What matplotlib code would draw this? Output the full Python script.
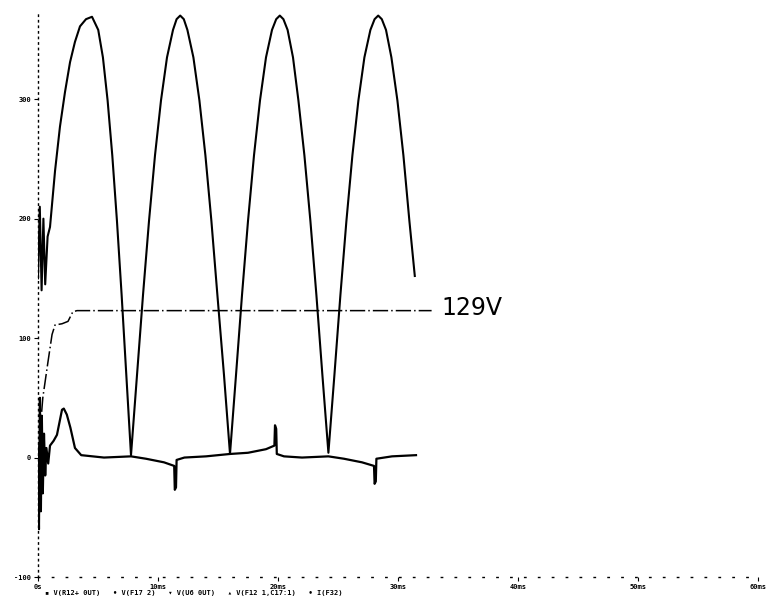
import matplotlib
matplotlib.use("Agg")
import matplotlib.pyplot as plt
from matplotlib import font_manager

# ---- data (time in ms, value in V) ----
big_t = [0.0, 0.15, 0.3, 0.45, 0.6, 0.8, 1.0, 1.42, 1.83, 2.25, 2.67, 3.08, 3.5, 4.0, 4.5,
         5.02, 5.41, 5.8, 6.19, 6.58, 6.97, 7.36, 7.75,
         8.25, 8.75, 9.25, 9.75, 10.25, 10.75, 11.25, 11.55, 11.85, 12.15, 12.45, 12.95, 13.45,
         13.95, 14.45, 14.95, 15.5, 16.0,
         16.5, 17.0, 17.5, 18.0, 18.5, 19.0, 19.5, 19.85, 20.15, 20.45, 20.8, 21.25, 21.7,
         22.2, 22.7, 23.2, 23.7, 24.2,
         24.7, 25.2, 25.7, 26.2, 26.7, 27.2, 27.7, 28.05, 28.35, 28.65, 29.0, 29.45, 29.95,
         30.45, 30.95, 31.4]
big_v = [150, 210, 140, 200, 145, 185, 193, 240, 277, 306, 331, 348, 361, 367, 369,
         358, 335, 299, 253, 198, 136, 69, 2,
         69, 136, 198, 253, 299, 335, 358, 367, 370, 367, 358, 335, 299,
         253, 198, 136, 69, 3,
         69, 136, 198, 253, 299, 335, 358, 367, 370, 367, 358, 335, 299,
         253, 198, 136, 69, 4,
         69, 136, 198, 253, 299, 335, 358, 367, 370, 367, 358, 335, 299,
         253, 198, 152]

dc_t = [0.0, 0.2, 0.4, 0.83, 1.17, 1.42, 2.0, 2.5, 2.9, 3.25, 32.8]
dc_v = [0, 25, 50, 80, 103, 111, 112, 114, 122, 123, 123]

low_t = [0.0, 0.08, 0.16, 0.24, 0.32, 0.4, 0.5, 0.6, 0.7, 0.85, 1.0, 1.3, 1.58, 1.8,
         2.0, 2.15, 2.4, 2.7, 3.08, 3.6, 5.5, 7.75, 9.0, 10.5, 11.35, 11.4, 11.5, 11.55,
         12.2, 14.0, 16.0, 17.5, 19.0, 19.7, 19.75, 19.85, 19.9, 20.5, 22.0, 24.2, 25.5,
         27.0, 28.0, 28.05, 28.15, 28.2, 29.5, 31.5]
low_v = [0, -60, 50, -45, 35, -30, 20, -15, 8, -5, 10, 14, 19, 30,
         40, 41, 36, 25, 8, 2, 0, 1, -1, -4, -7, -27, -25, -2,
         0, 1, 3, 4, 7, 10, 27, 24, 3, 1, 0, 1, -1,
         -4, -7, -22, -20, -1, 1, 2]

x_ticks = [0, 10, 20, 30, 40, 50, 60]
x_labels = ["0s", "10ms", "20ms", "30ms", "40ms", "50ms", "60ms"]
y_ticks = [-100, 0, 100, 200, 300]
y_labels = ["-100", "0", "100", "200", "300"]
legend_text = "\u25aa V(R12+ 0UT)   \u2022 V(F17 2)   \u25be V(U6 0UT)   \u25b4 V(F12 1,C17:1)   \u2022 I(F32)"
annotation = "129V"

installed = {f.name for f in font_manager.fontManager.ttflist}
ann_family = ["Liberation Sans Narrow"] if "Liberation Sans Narrow" in installed else ["DejaVu Sans"]
ann_size = 21 if "Liberation Sans Narrow" in installed else 17

fig = plt.figure(figsize=(7.7, 6.12), dpi=100)
ax = fig.add_axes([38 / 770, 35 / 612, 720 / 770, 565 / 612])
ax.set_xlim(0, 60)
ax.set_ylim(-100, 373)

ax.plot(big_t, big_v, color="black", lw=1.5, solid_joinstyle="round")
ax.plot(low_t, low_v, color="black", lw=1.6, solid_joinstyle="round")
ax.plot(dc_t, dc_v, color="black", lw=1.1, linestyle=(0, (10, 2, 1, 2)))

ax.text(33.6, 125, annotation, fontsize=ann_size, color="black", va="center", ha="left",
        family=ann_family)

for s in ["top", "right"]:
    ax.spines[s].set_visible(False)
ax.spines["left"].set_linestyle((0, (1, 3)))
ax.spines["left"].set_linewidth(1.0)
ax.spines["bottom"].set_linestyle((0, (1, 9)))
ax.spines["bottom"].set_linewidth(1.0)

ax.set_xticks(x_ticks)
ax.set_xticklabels(x_labels, fontsize=5, fontweight="bold", family="DejaVu Sans Mono")
ax.set_yticks(y_ticks)
ax.set_yticklabels(y_labels, fontsize=5, fontweight="bold", family="DejaVu Sans Mono")
ax.tick_params(axis="both", length=3, width=0.8, pad=2)

fig.text(45 / 770, 1 - 593 / 612, legend_text, fontsize=5, fontweight="bold",
         family="DejaVu Sans Mono", va="center", ha="left")

fig.savefig("out.png", dpi=100)
